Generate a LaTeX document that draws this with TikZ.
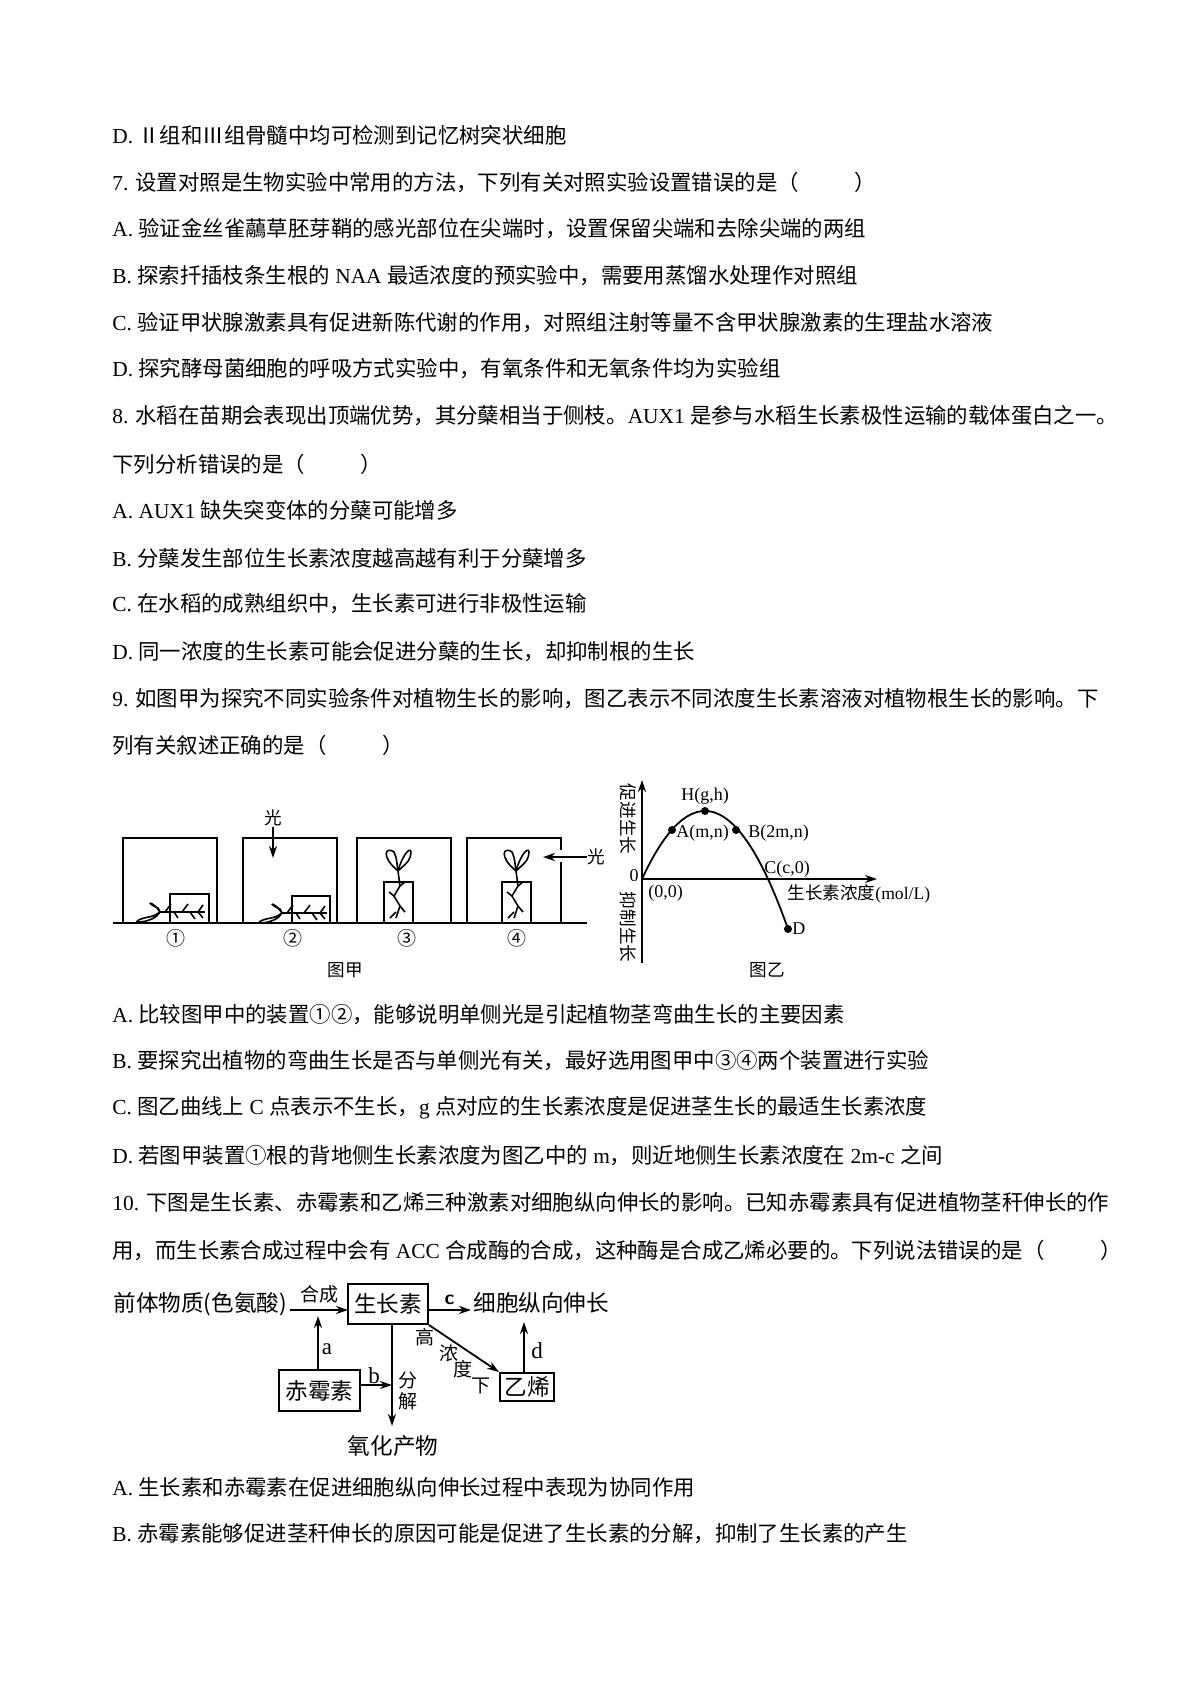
\documentclass[tikz,border=0pt]{standalone}
\usepackage{fontspec}
\setmainfont{Liberation Serif}
\newfontfamily\cjk{Noto Sans CJK SC}
\usetikzlibrary{arrows.meta}
\newcommand\E[1]{{\rmfamily #1}}
\tikzset{
 txt/.style={font=\cjk\fontsize{10.7}{13}\selectfont,anchor=west,inner sep=0pt},
 lbl/.style={font=\cjk\fontsize{8.8}{10}\selectfont,inner sep=0pt},
 glbl/.style={font=\rmfamily\fontsize{9}{10}\selectfont,inner sep=0pt},
 fl/.style={font=\cjk\fontsize{11.3}{13}\selectfont,inner sep=0pt},
 fbox/.style={draw,line width=1pt,font=\cjk\fontsize{11.3}{13}\selectfont,inner sep=0pt,minimum width=#1},
 fsm/.style={font=\cjk\fontsize{9.5}{11}\selectfont,inner sep=0pt},
 abc/.style={font=\rmfamily\fontsize{11.5}{12}\selectfont,inner sep=0pt},
 ln/.style={line width=0.9pt},
 arr/.style={line width=0.9pt,-{Stealth[length=6pt,width=4pt]}},
 dot/.style={circle,fill,inner sep=0pt,minimum size=4pt}
}
\begin{document}
\begin{tikzpicture}[x=0.5pt,y=-0.5pt]
\fill[white] (0,0) rectangle (1200,1697);
\useasboundingbox (0,0) rectangle (1200,1697);
% text lines
\node[txt] (l1) at (112,135) {\E{D. }Ⅱ组和Ⅲ组骨髓中均可检测到记忆树突状细胞};
\node[txt] (l2) at (112,182) {\E{7. }设置对照是生物实验中常用的方法，下列有关对照实验设置错误的是（\hspace{2.6em}）};
\node[txt] (l3) at (112,229) {\E{A. }验证金丝雀虉草胚芽鞘的感光部位在尖端时，设置保留尖端和去除尖端的两组};
\node[txt] (l4) at (112,276) {\E{B. }探索扦插枝条生根的\E{ NAA }最适浓度的预实验中，需要用蒸馏水处理作对照组};
\node[txt] (l5) at (112,323) {\E{C. }验证甲状腺激素具有促进新陈代谢的作用，对照组注射等量不含甲状腺激素的生理盐水溶液};
\node[txt] (l6) at (112,369) {\E{D. }探究酵母菌细胞的呼吸方式实验中，有氧条件和无氧条件均为实验组};
\node[txt] (l7) at (112,416) {\E{8. }水稻在苗期会表现出顶端优势，其分蘖相当于侧枝。\E{AUX1 }是参与水稻生长素极性运输的载体蛋白之一。};
\node[txt] (l8) at (112,464) {下列分析错误的是（\hspace{2.6em}）};
\node[txt] (l9) at (112,510) {\E{A. AUX1 }缺失突变体的分蘖可能增多};
\node[txt] (l10) at (112,558) {\E{B. }分蘖发生部位生长素浓度越高越有利于分蘖增多};
\node[txt] (l11) at (112,604) {\E{C. }在水稻的成熟组织中，生长素可进行非极性运输};
\node[txt] (l12) at (112,652) {\E{D. }同一浓度的生长素可能会促进分蘖的生长，却抑制根的生长};
\node[txt] (l13) at (112,699) {\E{9. }如图甲为探究不同实验条件对植物生长的影响，图乙表示不同浓度生长素溶液对植物根生长的影响。下};
\node[txt] (l14) at (112,745) {列有关叙述正确的是（\hspace{2.6em}）};
\node[txt] (l15) at (112,1015) {\E{A. }比较图甲中的装置①②，能够说明单侧光是引起植物茎弯曲生长的主要因素};
\node[txt] (l16) at (112,1061) {\E{B. }要探究出植物的弯曲生长是否与单侧光有关，最好选用图甲中③④两个装置进行实验};
\node[txt] (l17) at (112,1108) {\E{C. }图乙曲线上\E{ C }点表示不生长，\E{g }点对应的生长素浓度是促进茎生长的最适生长素浓度};
\node[txt] (l18) at (112,1156) {\E{D. }若图甲装置①根的背地侧生长素浓度为图乙中的\E{ m}，则近地侧生长素浓度在\E{ 2m-c }之间};
\node[txt] (l19) at (112,1202) {\E{10. }下图是生长素、赤霉素和乙烯三种激素对细胞纵向伸长的影响。已知赤霉素具有促进植物茎秆伸长的作};
\node[txt] (l20) at (112,1250) {用，而生长素合成过程中会有\E{ ACC }合成酶的合成，这种酶是合成乙烯必要的。下列说法错误的是（\hspace{2.6em}）};
\node[txt] (l21) at (112,1487) {\E{A. }生长素和赤霉素在促进细胞纵向伸长过程中表现为协同作用};
\node[txt] (l22) at (112,1534) {\E{B. }赤霉素能够促进茎秆伸长的原因可能是促进了生长素的分解，抑制了生长素的产生};

% ---------- figure jia ----------
\draw[ln] (113,923) -- (587,923);
\draw[ln] (123,923) -- (123,838) -- (217,838) -- (217,923);
\draw[ln] (243,923) -- (243,838) -- (337,838) -- (337,923);
\draw[ln] (357,923) -- (357,838) -- (451,838) -- (451,923);
\draw[ln] (561,850) -- (561,838) -- (467,838) -- (467,923);
\draw[ln] (561,862) -- (561,923);
\node[lbl] (g1) at (273,818) {光};
\coordinate (g1e) at (273,858);
\draw[arr] (g1) -- (g1e);
\node[lbl,anchor=west] (g2) at (587,857) {光};
\coordinate (g2e) at (543,857);
\draw[arr] (g2) -- (g2e);
% pots
\draw[ln] (170,923) -- (170,894) -- (209,894) -- (209,923);
\draw[ln] (292,923) -- (292,896) -- (330,896) -- (330,923);
\draw[ln] (384,923) -- (384,882) -- (413,882) -- (413,923);
\draw[ln] (502,923) -- (502,882) -- (531,882) -- (531,923);
% horizontal plants
\foreach \px/\py in {160/912, 282/913}{
 \draw[line width=0.8pt] (\px,\py) -- ++(45,0);
 \draw[line width=0.8pt] (\px,\py) .. controls ++(-8,-12) and ++(-14,-6) .. ++(-2,-4) -- cycle;
 \draw[line width=0.8pt] (\px,\py) .. controls ++(-6,12) and ++(-20,6) .. ++(-16,6) .. controls ++(10,-2) .. (\px,\py);
 \draw[line width=0.8pt] (\px+5,\py) -- ++(6,-8) (\px+14,\py) -- ++(4,6);
 \draw[line width=0.8pt] (\px+22,\py) -- ++(6,-8) (\px+30,\py) -- ++(5,7) (\px+38,\py) -- ++(5,-7) (\px+38,\py) -- ++(5,6);
}
% upright plants
\foreach \px in {398, 516}{
 \draw[line width=0.8pt] (\px,871) -- (\px+2,886) -- (\px-4,896) -- (\px+2,906) -- (\px-2,918);
 \draw[line width=0.8pt] (\px+2,886) -- ++(5,-4) (\px-4,896) -- ++(-5,-4) (\px+2,906) -- ++(5,6) (\px-2,912) -- ++(-6,6);
 \draw[line width=0.8pt] (\px,871) .. controls (\px-18,856) and (\px-12,846) .. (\px-4,852) .. controls (\px-2,856) .. (\px,871);
 \draw[line width=0.8pt] (\px,871) .. controls (\px+4,856) and (\px+12,846) .. (\px+13,852) .. controls (\px+12,860) .. (\px,871);
}
\node[fsm] (n1) at (176,938) {①};
\node[fsm] (n2) at (293,938) {②};
\node[fsm] (n3) at (407,938) {③};
\node[fsm] (n4) at (517,938) {④};
\node[lbl] (tj) at (345,970) {图甲};

% ---------- figure yi ----------
\coordinate (O) at (642,879);
\coordinate (ytop) at (642,780);
\coordinate (ybot) at (642,963);
\coordinate (xend) at (877,879);
\draw[arr] (ybot) -- (ytop);
\draw[arr] (O) -- (xend);
\draw[line width=0.9pt] plot[domain=0:146,samples=80] ({642+\x},{879-0.01713*\x*(126-\x)});
\node[dot] (H) at (705,811) {};
\node[dot] (A) at (672,830) {};
\node[dot] (B) at (736,830) {};
\node[dot] (D) at (788,929) {};
\node[glbl] (Hl) at (705,796) {H(g,h)};
\node[glbl,anchor=west] (Al) at (676,833) {A(m,n)};
\node[glbl,anchor=west] (Bl) at (748,833) {B(2m,n)};
\node[glbl,anchor=west] (Cl) at (764,869) {C(c,0)};
\node[glbl,anchor=west] (Dl) at (792,929) {D};
\node[glbl] (zl) at (634,876) {0};
\node[glbl,anchor=west] (ol) at (648,893) {(0,0)};
\node[lbl,anchor=west] (xl) at (787,894) {生长素浓度\E{(mol/L)}};
\node[lbl,rotate=-90] (yl1) at (628,819) {促进生长};
\node[lbl,rotate=-90] (yl2) at (628,927) {抑制生长};
\node[lbl] (ty) at (767,970) {图乙};

% ---------- flowchart ----------
\node[fl,anchor=west] (pre) at (113,1304) {前体物质(色氨酸)};
\node[fbox=80pt/2,minimum height=40pt/2] (aux) at (388,1304) {生长素};
\node[fl,anchor=west] (cell) at (473,1303) {细胞纵向伸长};
\node[fbox=81pt/2,minimum height=41pt/2] (ga) at (319.5,1390.5) {赤霉素};
\node[fbox=54pt/2,minimum height=28pt/2] (eth) at (527,1387) {乙烯};
\node[fl] (ox) at (393,1446) {氧化产物};
\coordinate (preE) at (290,1310);
\coordinate (auxW) at (348,1310);
\draw[arr] (preE) -- node[fsm,above=3pt] {合成} (auxW);
\coordinate (auxE) at (428,1310);
\coordinate (cellW) at (471,1310);
\draw[arr] (auxE) -- node[font=\sffamily\bfseries\fontsize{10}{10}\selectfont,above=1pt,inner sep=1pt] {c} (cellW);
\coordinate (atip) at (318,1316);
\draw[arr] (ga.north-|atip) -- (atip);
\node[abc] (al) at (327,1349) {a};
\coordinate (vtop) at (392,1324);
\coordinate (vbot) at (392,1426);
\draw[arr] (vtop) -- (vbot);
\coordinate (bend) at (392,1385);
\draw[arr] (ga.east|-bend) -- (bend);
\node[abc] (bl) at (374,1376) {b};
\node[fsm] (fen) at (408,1380) {分};
\node[fsm] (jie) at (408,1401) {解};
\draw[arr] (aux.south east) -- (eth.north west);
\node[fsm] (k1) at (425,1337) {高};
\node[fsm] (k2) at (449,1353) {浓};
\node[fsm] (k3) at (463,1369) {度};
\node[fsm] (k4) at (481,1386) {下};
\coordinate (dtip) at (524,1322);
\draw[arr] (eth.north-|dtip) -- (dtip);
\node[abc] (dl) at (537,1351) {d};
\end{tikzpicture}
\end{document}
